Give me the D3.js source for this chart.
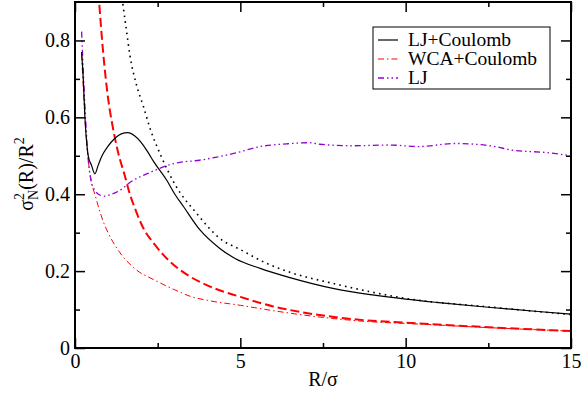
<!DOCTYPE html>
<html><head><meta charset="utf-8">
<script src="https://cdn.jsdelivr.net/npm/d3@7"></script>
<style>body{margin:0;background:#fff}svg{display:block}svg text{font-family:"Liberation Serif","DejaVu Serif",serif !important}</style>
</head><body>
<svg id="c" width="581" height="398"></svg>
<script>
// Data
const xLJC = [0.2,0.25,0.3,0.37,0.4,0.5,0.6,0.7,0.8,1.0,1.2,1.4,1.6,1.8,2.0,2.2,2.4,2.77,3.02,3.28,3.78,4.38,4.84,5.6,6.5,7.8,9.0,10,11,12.5,14,15];
const yLJC = [0.77,0.70,0.60,0.52,0.50,0.475,0.453,0.475,0.497,0.525,0.545,0.557,0.56,0.552,0.535,0.51,0.482,0.437,0.40,0.368,0.307,0.259,0.233,0.207,0.183,0.155,0.138,0.127,0.118,0.106,0.095,0.088];

const xWCA = [0.2,0.3,0.4,0.5,0.6,0.7,0.85,1.0,1.3,1.8,2.4,3.0,3.5,4.0,5.0,6.0,6.8,8.0,9.0,10,12.5,15];
const yWCA = [0.765,0.60,0.49,0.43,0.40,0.37,0.33,0.30,0.255,0.207,0.177,0.152,0.134,0.124,0.111,0.097,0.087,0.075,0.068,0.064,0.053,0.044];

const xLJ = [0.2,0.3,0.4,0.5,0.6,0.75,0.9,1.1,1.3,1.7,2.2,3.0,3.8,4.8,5.6,6.4,7.1,7.4,8.4,9.5,10.4,11.5,12.7,13.2,14.3,15];
const yLJ = [0.823,0.63,0.49,0.43,0.41,0.398,0.395,0.40,0.407,0.433,0.454,0.48,0.489,0.506,0.524,0.531,0.534,0.530,0.526,0.528,0.524,0.532,0.524,0.515,0.508,0.50];

const xDash = [0.68,0.73,0.85,1.0,1.14,1.3,1.5,1.66,1.85,2.02,2.42,2.87,3.4,4.0,5.0,6.0,6.8,8.0,8.8,10,12.5,15];
const yDash = [0.96,0.90,0.77,0.65,0.576,0.51,0.45,0.40,0.355,0.32,0.268,0.225,0.19,0.163,0.133,0.108,0.094,0.079,0.072,0.066,0.054,0.044];

const xDot = [1.38,1.44,1.55,1.66,1.86,2.07,2.27,2.6,3.02,3.68,4.38,5.0,5.8,6.5,7.8,9.0,10,12.5,15];
const yDot = [0.94,0.90,0.83,0.762,0.684,0.628,0.571,0.50,0.426,0.35,0.285,0.256,0.22,0.197,0.168,0.145,0.129,0.107,0.087];

const xTicks = [0,5,10,15];
const xMinor = [2.5,7.5,12.5];
const yTicks = [0,0.2,0.4,0.6,0.8];
const yMinor = [0.1,0.3,0.5,0.7];
const legendLabels = ["LJ+Coulomb","WCA+Coulomb","LJ"];

const FS = 20;
const L=75,R=571,T=2,B=348;
const x = d3.scaleLinear().domain([0,15]).range([L,R]);
const y = d3.scaleLinear().domain([0,0.9]).range([B,T]);
const svg = d3.select("#c");

svg.append("clipPath").attr("id","clip").append("rect")
  .attr("x",L).attr("y",T).attr("width",R-L).attr("height",B-T);

const styles = [
  {xs:xDot, ys:yDot, color:"#000", w:1.6, dash:"1.6,4.2"},
  {xs:xDash, ys:yDash, color:"#ff0000", w:2, dash:"9,4"},
  {xs:xWCA, ys:yWCA, color:"#ff0000", w:1, dash:"6,3,1.5,3"},
  {xs:xLJ, ys:yLJ, color:"#9400d3", w:1.3, dash:"6,3,1.5,3,1.5,3"},
  {xs:xLJC, ys:yLJC, color:"#000", w:1.2, dash:null}
];
const line = d3.line().x(d=>x(d[0])).y(d=>y(d[1])).curve(d3.curveMonotoneX);
const g = svg.append("g").attr("clip-path","url(#clip)");
styles.forEach(s=>{
  const pts = s.xs.map((v,i)=>[v,s.ys[i]]);
  g.append("path").attr("d",line(pts)).attr("fill","none")
   .attr("stroke",s.color).attr("stroke-width",s.w)
   .attr("stroke-dasharray",s.dash);
});

// Axes with inward ticks on all four sides
function ax(gen, tr){ return svg.append("g").attr("transform",tr).call(gen); }
const tk = (sel)=>{ sel.attr("font-family",null).attr("font-size",null); sel.select(".domain").remove(); sel.selectAll("line").attr("stroke","#000").attr("stroke-width",1.5); };
const fmt = d=> d===0?"0":d3.format(".1f")(d);

let a = ax(d3.axisBottom(x).tickValues(xTicks).tickSizeInner(-10).tickSizeOuter(0).tickPadding(6).tickFormat(d3.format("d")), `translate(0,${B})`);
tk(a); a.selectAll("text").style("font-size",FS+"px").attr("fill","#000");
a = ax(d3.axisBottom(x).tickValues(xMinor).tickSizeInner(-5).tickSizeOuter(0).tickFormat(""), `translate(0,${B})`); tk(a);
a = ax(d3.axisTop(x).tickValues(xTicks).tickSizeInner(-10).tickSizeOuter(0).tickFormat(""), `translate(0,${T})`); tk(a);
a = ax(d3.axisTop(x).tickValues(xMinor).tickSizeInner(-5).tickSizeOuter(0).tickFormat(""), `translate(0,${T})`); tk(a);

a = ax(d3.axisLeft(y).tickValues(yTicks).tickSizeInner(-10).tickSizeOuter(0).tickPadding(5).tickFormat(fmt), `translate(${L},0)`);
tk(a); a.selectAll("text").style("font-size",FS+"px").attr("fill","#000");
a = ax(d3.axisLeft(y).tickValues(yMinor).tickSizeInner(-5).tickSizeOuter(0).tickFormat(""), `translate(${L},0)`); tk(a);
a = ax(d3.axisRight(y).tickValues(yTicks).tickSizeInner(-10).tickSizeOuter(0).tickFormat(""), `translate(${R},0)`); tk(a);
a = ax(d3.axisRight(y).tickValues(yMinor).tickSizeInner(-5).tickSizeOuter(0).tickFormat(""), `translate(${R},0)`); tk(a);

// Frame
svg.append("rect").attr("x",L).attr("y",T).attr("width",R-L).attr("height",B-T)
  .attr("fill","none").attr("stroke","#000").attr("stroke-width",2);

// Axis labels
svg.append("text").attr("x",(L+R)/2).attr("y",386).attr("text-anchor","middle")
  .style("font-size",FS+"px").text("R/σ");
const yl = svg.append("text").attr("transform","translate(33,174) rotate(-90)")
  .attr("text-anchor","middle").style("font-size",FS+"px");
yl.append("tspan").text("σ");
yl.append("tspan").style("font-size","14px").attr("dy",-9).text("2");
yl.append("tspan").style("font-size","14px").attr("dx",-7).attr("dy",14).text("N");
yl.append("tspan").attr("dy",-5).text("(R)/R");
yl.append("tspan").style("font-size","14px").attr("dy",-9).text("2");

// Legend
const lg = svg.append("g");
lg.append("rect").attr("x",373).attr("y",27).attr("width",177).attr("height",62)
  .attr("fill","#fff").attr("stroke","#000").attr("stroke-width",1);
const legStyles = [styles[4], styles[2], styles[3]];
legendLabels.forEach((t,i)=>{
  const yy = 40 + i*19;
  lg.append("line").attr("x1",378).attr("x2",398).attr("y1",yy).attr("y2",yy)
    .attr("stroke",legStyles[i].color).attr("stroke-width",legStyles[i].w)
    .attr("stroke-dasharray",legStyles[i].dash);
  lg.append("text").attr("x",408).attr("y",yy+6).style("font-size","19.5px").text(t);
});
</script>
</body></html>
